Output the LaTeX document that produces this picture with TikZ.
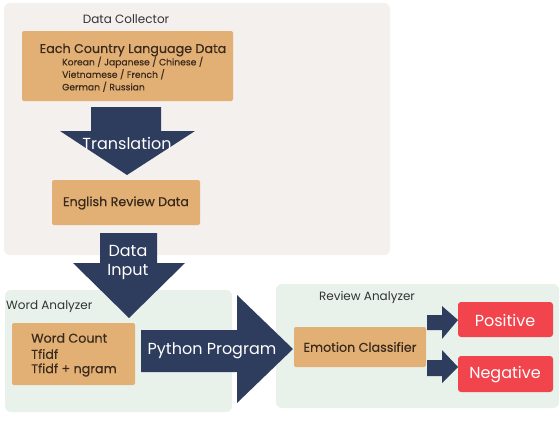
\documentclass[tikz,border=0pt]{standalone}
\usepackage{fontspec}
\setmainfont{Poppins}
\newfontfamily\medfont[FakeBold=0.35]{Poppins}
\definecolor{navy}{HTML}{2E3D5E}
\definecolor{orng}{HTML}{E2AF75}
\definecolor{redb}{HTML}{F2444C}
\definecolor{beige}{HTML}{F4F0EE}
\definecolor{greenp}{HTML}{E8F2EB}
\definecolor{lbl}{HTML}{333333}
\definecolor{brn}{HTML}{3A2A1C}
\tikzset{
  panel/.style={rounded corners=6pt},
  obox/.style={fill=orng, rounded corners=2pt},
  rbox/.style={fill=redb, rounded corners=3pt},
  bigarrow/.style={fill=navy},
  lbltext/.style={text=lbl, font=\fontsize{12}{14}\selectfont, inner sep=0pt},
  otext/.style={text=brn, font=\medfont\fontsize{12.7}{15}\selectfont, inner sep=0pt},
  wtext/.style={text=white, font=\fontsize{16}{19}\selectfont, inner sep=0pt},
}
\begin{document}
\begin{tikzpicture}[x=1pt,y=-1pt]
\useasboundingbox (0,0) rectangle (560,421);
\fill[white] (0,0) rectangle (560,421);
% panels
\fill[beige,panel] (4,3) rectangle (390,255);
\fill[greenp,panel] (5,290) rectangle (232,412);
\fill[greenp,panel] (276,284) rectangle (559,408);
\node[lbltext] (dc) at (126,19) {Data Collector};
\node[lbltext,anchor=west] (wa) at (6,307) {Word Analyzer};
\node[lbltext] (ra) at (367,297) {Review Analyzer};
% box 1
\fill[obox] (22,31) rectangle (233,101);
\node[otext] (each) at (133,50) {Each Country Language Data};
\node[text=brn, font=\medfont\fontsize{9.2}{12.5}\selectfont, anchor=north west, align=left, inner sep=0pt] (langs) at (62,56.5) {Korean / Japanese / Chinese /\\Vietnamese / French /\\German / Russian};
% translation arrow
\fill[bigarrow] (91,107) -- (161,107) -- (161,131) -- (195,131) -- (127,175) -- (60,131) -- (91,131) -- cycle;
\node[wtext] (tr) at (127,143) {Translation};
% english box
\fill[obox] (52,180) rectangle (200,225);
\node[otext] (eng) at (126,203) {English Review Data};
% data input arrow
\fill[bigarrow] (100,233) -- (157,233) -- (157,263) -- (185,263) -- (129,318) -- (73,263) -- (100,263) -- cycle;
\node[wtext] (di1) at (128,251) {Data};
\node[wtext] (di2) at (128,272) {Input};
% word analyzer box
\fill[obox] (12,323) rectangle (135,385);
\node[otext,anchor=west] (wc1) at (31,338) {Word Count};
\node[otext,anchor=west] (wc2) at (31,354) {Tfidf};
\node[otext,anchor=west] (wc3) at (31,370) {Tfidf + ngram};
% python arrow
\fill[bigarrow] (141,330) -- (237,330) -- (237,295) -- (293,349) -- (237,403) -- (237,372) -- (141,372) -- cycle;
\node[wtext] (py) at (212,351) {Python Program};
% emotion classifier
\fill[obox] (294,327) rectangle (426,367);
\node[otext] (ec) at (360,347) {Emotion Classifier};
% positive / negative
\fill[rbox] (458,302) rectangle (553,337);
\node[wtext] (pos) at (505,320) {Positive};
\fill[rbox] (458,356) rectangle (553,392);
\node[wtext] (neg) at (505,375) {Negative};
% small arrows
\fill[bigarrow] (427,315) -- (442,315) -- (442,306) -- (458,320) -- (442,339) -- (442,330) -- (427,330) -- cycle;
\fill[bigarrow] (427,360) -- (442,360) -- (442,350) -- (458,367) -- (442,383) -- (442,376) -- (427,376) -- cycle;
\end{tikzpicture}
\end{document}
